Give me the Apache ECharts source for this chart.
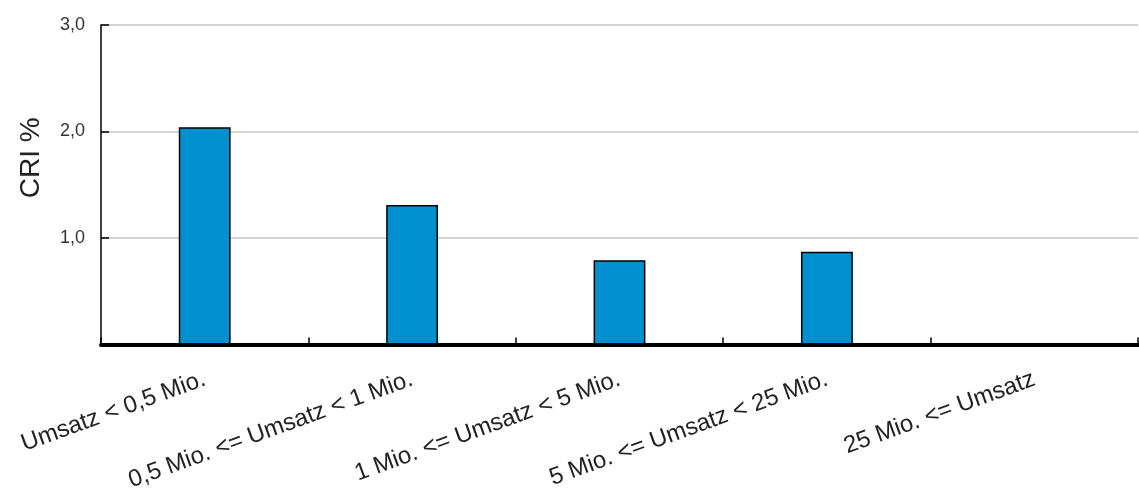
<!DOCTYPE html>
<html>
<head>
<meta charset="utf-8">
<script src="https://cdn.jsdelivr.net/npm/echarts@6/dist/echarts.min.js"></script>
<style>
html,body{margin:0;padding:0;background:#fff;}
#chart{width:1139px;height:488px;}
</style>
</head>
<body>
<div id="chart"></div>
<script>
const categories = [
  'Umsatz < 0,5 Mio.',
  '0,5 Mio. <= Umsatz < 1 Mio.',
  '1 Mio. <= Umsatz < 5 Mio.',
  '5 Mio. <= Umsatz < 25 Mio.',
  '25 Mio. <= Umsatz'
];
const criValues = [2.04, 1.31, 0.79, 0.87, 0];
const yAxisName = 'CRI %';
const yMin = 0, yMax = 3, yInterval = 1;

const chart = echarts.init(document.getElementById('chart'), null, {renderer: 'canvas'});
chart.setOption({
  animation: false,
  grid: {left: 101, right: 1, top: 25, bottom: 143.5, containLabel: false, outerBoundsMode: 'none'},
  xAxis: {
    type: 'category',
    data: categories,
    boundaryGap: true,
    axisLine: {show: true, lineStyle: {color: '#000', width: 4}},
    axisTick: {show: true, inside: true, length: 7, alignWithLabel: false, lineStyle: {color: '#000', width: 1.5}},
    axisLabel: {
      rotate: 20, margin: 34, interval: 0, hideOverlap: false,
      fontFamily: 'Liberation Sans, Arial, sans-serif', fontSize: 24, color: '#222'
    },
    splitLine: {show: false}
  },
  yAxis: {
    type: 'value',
    min: yMin, max: yMax, interval: yInterval,
    name: yAxisName,
    nameLocation: 'middle',
    nameRotate: 90,
    nameGap: 56,
    nameTextStyle: {fontFamily: 'Liberation Sans, Arial, sans-serif', fontSize: 28, color: '#222', padding: [0, 0, 0, 54]},
    axisLine: {show: true, lineStyle: {color: '#000', width: 1.5}},
    axisTick: {show: true, inside: true, length: 8, lineStyle: {color: '#000', width: 1.5}},
    axisLabel: {
      margin: 16,
      fontFamily: 'Liberation Sans, Arial, sans-serif', fontSize: 18, color: '#333',
      formatter: v => v === 0 ? '' : v.toFixed(1).replace('.', ',')
    },
    splitLine: {show: true, lineStyle: {color: '#c4c4c4', width: 1.5}}
  },
  series: [{
    type: 'bar',
    data: criValues,
    barWidth: '25%',
    itemStyle: {color: '#0090d0', borderColor: '#000', borderWidth: 1.5}
  }]
});
</script>
</body>
</html>
